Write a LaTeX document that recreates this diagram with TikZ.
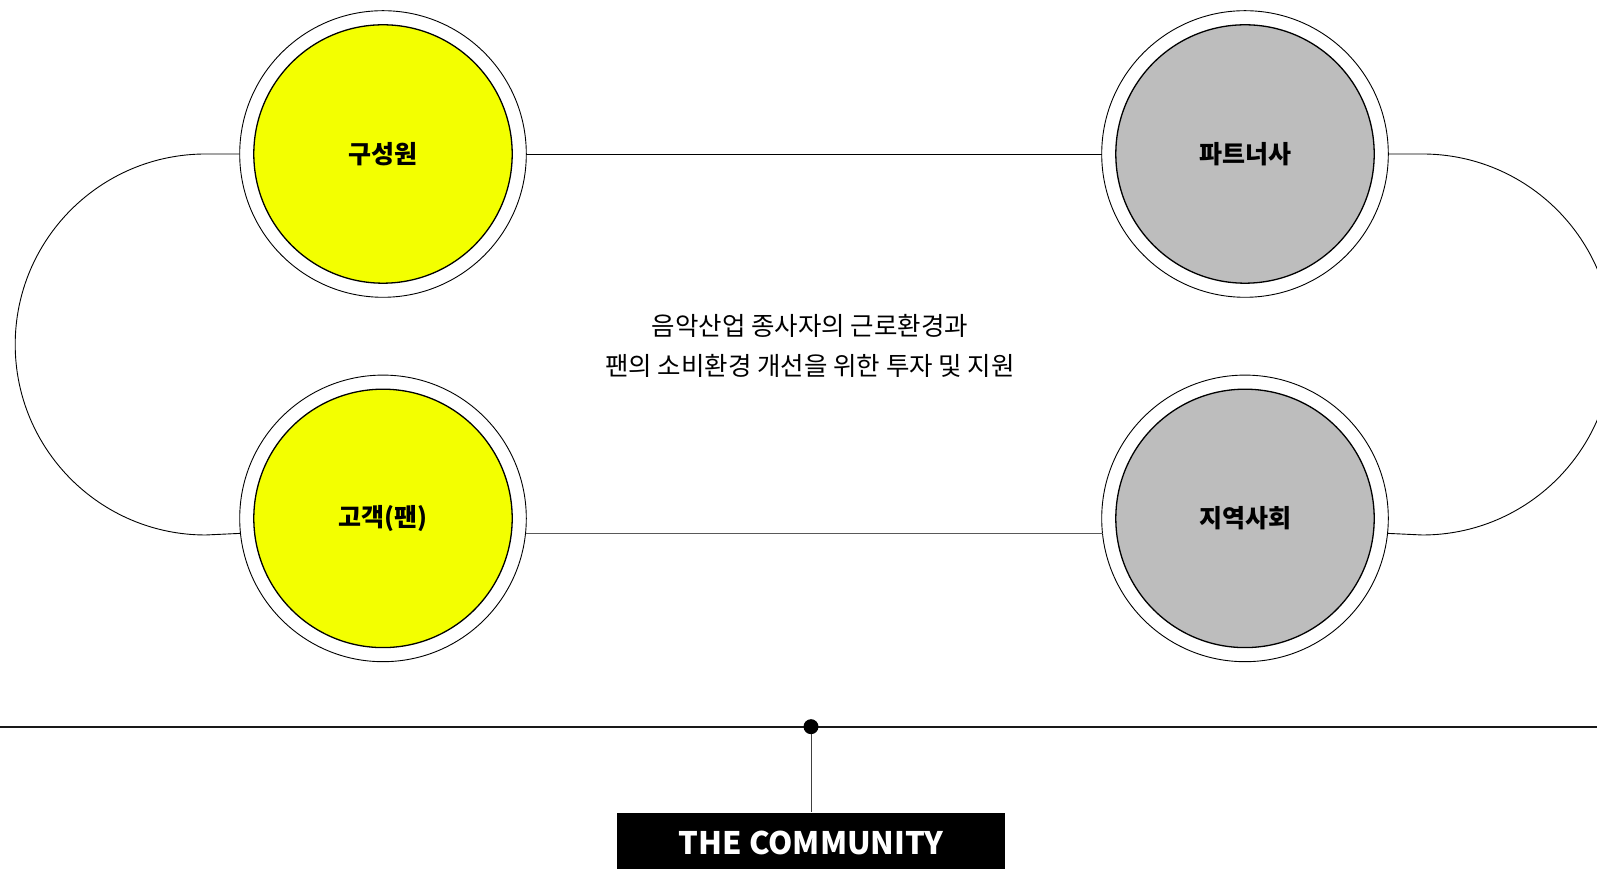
\documentclass[tikz,border=0pt]{standalone}
\usepackage{fontspec}
\setmainfont{Noto Sans CJK KR}
\definecolor{cyel}{HTML}{F3FF00}
\definecolor{cgray}{HTML}{BDBDBD}
\tikzset{
  outerc/.style={circle, draw=black, line width=0.9pt, fill=white, minimum size=286.6pt, inner sep=0pt, outer sep=0pt},
  innerc/.style={circle, draw=black, line width=1.3pt, minimum size=258.4pt, inner sep=0pt, outer sep=0pt, font=\fontsize{25}{28}\selectfont\bfseries},
  yel/.style={innerc, fill=cyel},
  gry/.style={innerc, fill=cgray},
  link/.style={draw=black, line width=0.9pt},
  lowlink/.style={draw=black!65, line width=1.2pt},
}
\begin{document}
\begin{tikzpicture}[x=1pt,y=1pt]
\useasboundingbox (0,0) rectangle (1597,869);
\clip (0,0) rectangle (1597,869);
\coordinate (lt) at (205.7,715);
\coordinate (lb) at (205.7,334);
\coordinate (rt) at (1422.3,715);
\coordinate (rb) at (1422.3,334);
\node[outerc] (o1) at (383,715) {};
\node[outerc] (o2) at (1245,715) {};
\node[outerc] (o3) at (383,350.6) {};
\node[outerc] (o4) at (1245,350.6) {};
\node[yel] (n1) at (o1) {구성원};
\node[gry] (n2) at (o2) {파트너사};
\node[yel] (n3) at (o3) {고객(팬)};
\node[gry] (n4) at (o4) {지역사회};
\draw[link] (o1.west) -- (lt) arc[start angle=90, end angle=270, radius=190.5] -- (o3.186.7);
\draw[link] (o2.east) -- (rt) arc[start angle=90, end angle=-90, radius=190.5] -- (o4.-6.7);
\draw[link] (o1.east) -- (o2.west);
\draw[lowlink] (o3.-6.7) -- (o4.186.7);
\node[align=center, font=\fontsize{25.5}{39.6}\selectfont] (txt) at (810,523.2) {음악산업 종사자의 근로환경과\\팬의 소비환경 개선을 위한 투자 및 지원};
\coordinate (hl) at (0,142.3);
\coordinate (hr) at (1597,142.3);
\draw[line width=2pt, draw=black!90] (hl) -- (hr);
\node[circle, fill=black, minimum size=15pt, inner sep=0pt] (dot) at (811,142.3) {};
\node[fill=black, text=white, minimum width=388.3pt, minimum height=59.6pt, inner sep=0pt, font=\fontsize{31}{36}\selectfont\bfseries] (com) at (811,26.5) {THE COMMUNITY};
\draw[line width=1pt, draw=black!75] (dot) -- (com.north);
\end{tikzpicture}
\end{document}
